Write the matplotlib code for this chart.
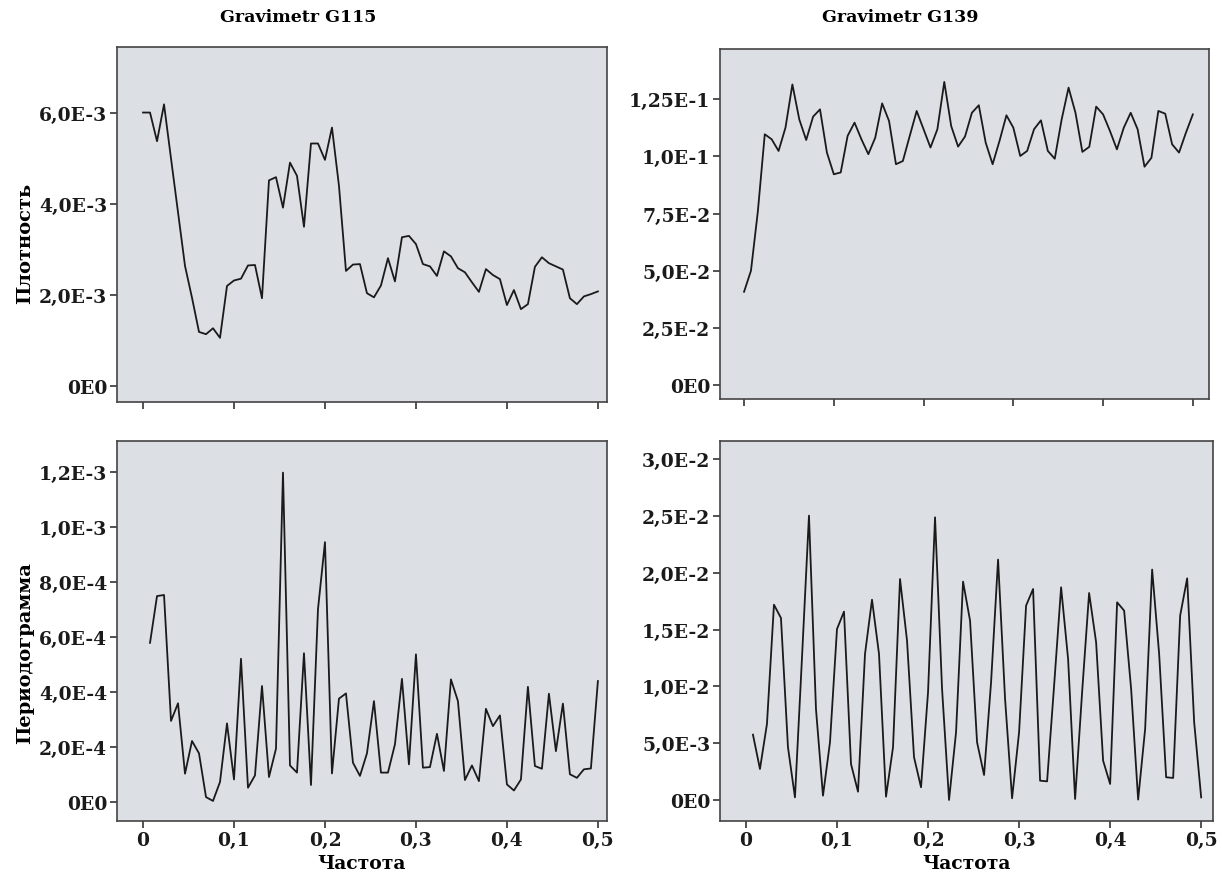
import numpy as np
import matplotlib.pyplot as plt

# частоты: спектральная плотность от 0, периодограмма от 1/130
freq_density = np.arange(66) / 130
freq_period = np.arange(1, 66) / 130

# Gravimetr G115, плотность (x1e-3)
dens_g115 = [6.01, 6.01, 5.38, 6.19, 5.00, 3.82, 2.64, 1.94, 1.19, 1.14,
             1.27, 1.06, 2.20, 2.32, 2.36, 2.65, 2.66, 1.93, 4.52, 4.59,
             3.92, 4.91, 4.62, 3.50, 5.33, 5.33, 4.97, 5.68, 4.40, 2.53,
             2.67, 2.68, 2.04, 1.95, 2.21, 2.81, 2.30, 3.27, 3.30, 3.12,
             2.68, 2.63, 2.42, 2.96, 2.85, 2.59, 2.50, 2.28, 2.07, 2.57,
             2.44, 2.35, 1.78, 2.11, 1.69, 1.80, 2.62, 2.83, 2.70, 2.63,
             2.56, 1.93, 1.80, 1.97, 2.02, 2.08]

# Gravimetr G139, плотность (x1e-2)
dens_g139 = [4.08, 5.00, 7.60, 10.97, 10.75, 10.24, 11.26, 13.15, 11.62, 10.72,
             11.74, 12.06, 10.17, 9.22, 9.30, 10.90, 11.48, 10.75, 10.10, 10.82,
             12.32, 11.55, 9.66, 9.80, 10.90, 11.99, 11.19, 10.39, 11.19, 13.26,
             11.33, 10.43, 10.87, 11.91, 12.24, 10.60, 9.66, 10.68, 11.80, 11.26,
             10.02, 10.24, 11.19, 11.58, 10.24, 9.90, 11.62, 13.01, 11.91, 10.20,
             10.42, 12.18, 11.84, 11.11, 10.31, 11.26, 11.91, 11.19, 9.55, 9.94,
             11.99, 11.87, 10.53, 10.17, 11.04, 11.84]

# Gravimetr G115, периодограмма (x1e-4)
per_g115 = [5.79, 7.49, 7.53, 2.95, 3.59, 1.03, 2.22, 1.77, 0.18, 0.04,
            0.73, 2.86, 0.82, 5.21, 0.52, 0.97, 4.22, 0.91, 1.94, 11.98,
            1.33, 1.07, 5.41, 0.62, 7.01, 9.45, 1.04, 3.76, 3.95, 1.43,
            0.95, 1.77, 3.67, 1.07, 1.07, 2.10, 4.48, 1.37, 5.37, 1.25,
            1.27, 2.48, 1.13, 4.46, 3.67, 0.80, 1.33, 0.76, 3.39, 2.76,
            3.15, 0.64, 0.42, 0.82, 4.19, 1.31, 1.21, 3.94, 1.85, 3.58,
            1.01, 0.88, 1.19, 1.22, 4.40]

# Gravimetr G139, периодограмма (x1e-3)
per_g139 = [5.75, 2.73, 6.69, 17.19, 16.02, 4.64, 0.23, 12.50, 25.03, 8.00,
            0.38, 5.08, 15.05, 16.58, 3.17, 0.73, 12.85, 17.63, 12.85, 0.29,
            4.64, 19.45, 14.03, 3.76, 1.12, 9.48, 24.88, 9.80, 0.00, 5.96,
            19.22, 15.79, 5.08, 2.20, 10.36, 21.16, 8.89, 0.15, 5.96, 17.11,
            18.57, 1.70, 1.64, 10.06, 18.72, 12.41, 0.09, 9.48, 18.22, 13.88,
            3.46, 1.41, 17.40, 16.67, 9.77, 0.03, 6.25, 20.28, 12.85, 2.00,
            1.94, 16.23, 19.51, 6.84, 0.23]

x_ticks = [0, 0.1, 0.2, 0.3, 0.4, 0.5]
x_labels = ['0', '0,1', '0,2', '0,3', '0,4', '0,5']

yt_dens_g115 = [0, 2e-3, 4e-3, 6e-3]
yl_dens_g115 = ['0E0', '2,0E-3', '4,0E-3', '6,0E-3']
yt_dens_g139 = [0, 0.025, 0.05, 0.075, 0.1, 0.125]
yl_dens_g139 = ['0E0', '2,5E-2', '5,0E-2', '7,5E-2', '1,0E-1', '1,25E-1']
yt_per_g115 = [0, 2e-4, 4e-4, 6e-4, 8e-4, 1e-3, 1.2e-3]
yl_per_g115 = ['0E0', '2,0E-4', '4,0E-4', '6,0E-4', '8,0E-4', '1,0E-3', '1,2E-3']
yt_per_g139 = [0, 5e-3, 1e-2, 1.5e-2, 2e-2, 2.5e-2, 3e-2]
yl_per_g139 = ['0E0', '5,0E-3', '1,0E-2', '1,5E-2', '2,0E-2', '2,5E-2', '3,0E-2']

plt.rcParams['font.family'] = ['DejaVu Serif']
plt.rcParams['font.weight'] = 'bold'

W, H = 1222, 878
fig = plt.figure(figsize=(W / 100, H / 100), dpi=100)


def add_panel(x0, x1, y0, y1):
    """оси по пиксельным границам"""
    return fig.add_axes([x0 / W, 1 - y1 / H, (x1 - x0) / W, (y1 - y0) / H])


def style(ax, xlim, ylim, yticks, ylabels, bottom):
    ax.set_facecolor('#dcdfe3')
    ax.set_xlim(*xlim)
    ax.set_ylim(*ylim)
    ax.set_yticks(yticks, labels=ylabels)
    ax.set_xticks(x_ticks, labels=x_labels if bottom else [])
    ax.tick_params(direction='out', length=5, width=1.2, colors='#333333',
                   labelcolor='#1a1a1a', labelsize=13.5, pad=2)
    for s in ax.spines.values():
        s.set_color('#444444')
        s.set_linewidth(1.2)
    if bottom:
        ax.set_xlabel('Частота', fontsize=13.5, fontweight='bold', labelpad=4)


ax1 = add_panel(117, 607, 48, 403)
ax1.plot(freq_density, np.array(dens_g115) * 1e-3, color='#1a1a1a', lw=1.3)
style(ax1, (-0.0286, 0.510), (-0.35e-3, 7.45e-3), yt_dens_g115, yl_dens_g115, False)
ax1.set_ylabel('Плотность', fontsize=14, fontweight='bold')
ax1.yaxis.set_label_coords(-0.17, 0.45)

ax2 = add_panel(720, 1209, 50, 400)
ax2.plot(freq_density, np.array(dens_g139) * 1e-2, color='#1a1a1a', lw=1.3)
style(ax2, (-0.0268, 0.518), (-0.0061, 0.147), yt_dens_g139, yl_dens_g139, False)

ax3 = add_panel(117, 607, 442, 822)
ax3.plot(freq_period, np.array(per_g115) * 1e-4, color='#1a1a1a', lw=1.3)
style(ax3, (-0.0286, 0.510), (-0.069e-3, 1.313e-3), yt_per_g115, yl_per_g115, True)
ax3.set_ylabel('Периодограмма', fontsize=14, fontweight='bold')
ax3.yaxis.set_label_coords(-0.17, 0.445)

ax4 = add_panel(720, 1213, 442, 822)
ax4.plot(freq_period, np.array(per_g139) * 1e-3, color='#1a1a1a', lw=1.3)
style(ax4, (-0.0285, 0.513), (-1.85e-3, 31.6e-3), yt_per_g139, yl_per_g139, True)

fig.text(298 / W, 1 - 18 / H, 'Gravimetr G115', ha='center', va='center',
         fontsize=12.5, fontweight='bold')
fig.text(900 / W, 1 - 18 / H, 'Gravimetr G139', ha='center', va='center',
         fontsize=12.5, fontweight='bold')

fig.savefig('out.png', dpi=100)
